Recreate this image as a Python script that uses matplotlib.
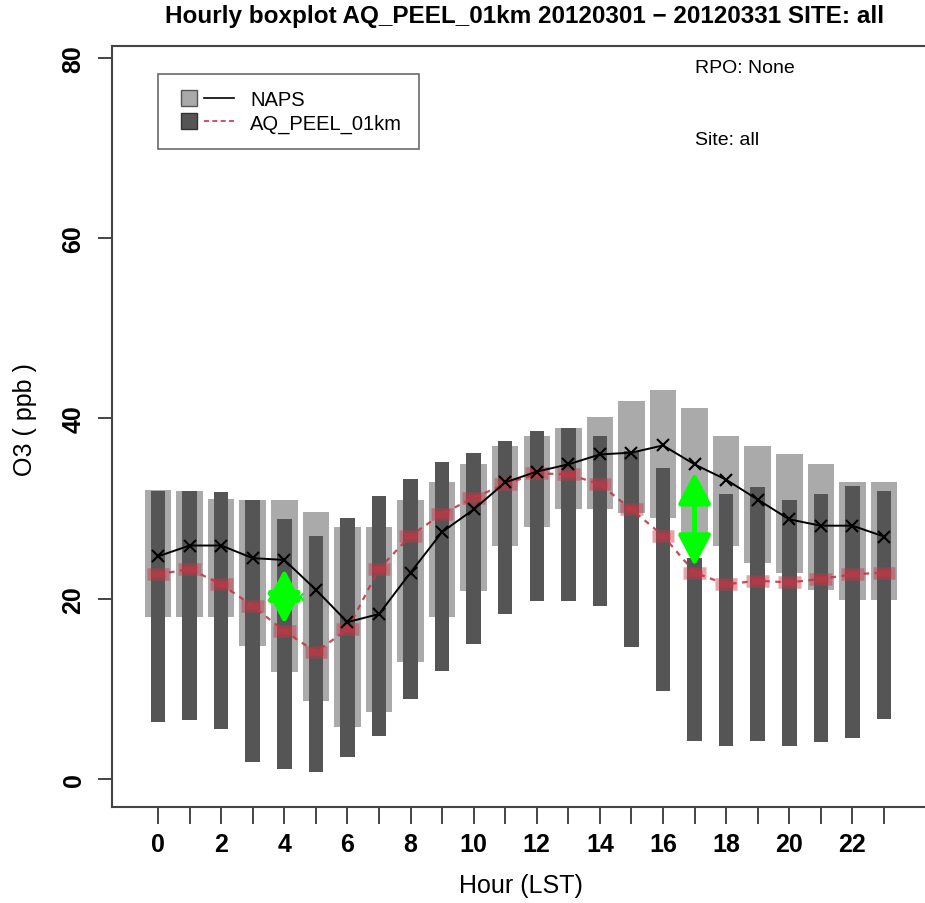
import numpy as np
import matplotlib
matplotlib.use("Agg")
import matplotlib.pyplot as plt
from matplotlib.lines import Line2D
from matplotlib.legend_handler import HandlerTuple

plt.rcParams['font.family'] = ['Liberation Sans', 'DejaVu Sans']

hours = np.arange(24)

# NAPS (observed) box top / bottom and median, ppb
naps_hi = [32.1, 32.0, 31.1, 30.9, 31.0, 29.6, 27.9, 27.9, 31.0, 33.0, 34.9, 36.9,
           38.0, 38.9, 40.1, 41.9, 43.1, 41.1, 38.0, 36.9, 36.0, 34.9, 33.0, 33.0]
naps_lo = [18.0, 18.0, 18.0, 14.8, 11.9, 8.7, 5.8, 7.4, 13.0, 18.0, 20.9, 25.9,
           27.9, 30.0, 30.0, 29.5, 29.0, 26.6, 25.9, 24.0, 22.9, 21.0, 19.9, 19.9]
naps_med = [24.7, 25.9, 25.9, 24.5, 24.3, 21.0, 17.4, 18.3, 22.9, 27.4, 29.9, 32.9,
            34.1, 34.9, 36.0, 36.2, 37.0, 34.9, 33.2, 31.0, 28.8, 28.1, 28.1, 26.9]

# AQ_PEEL_01km (model) box top / bottom and median, ppb
model_hi = [32.0, 32.0, 31.8, 31.0, 28.8, 27.0, 29.0, 31.4, 33.3, 35.2, 36.2, 37.5,
            38.6, 38.9, 38.0, 36.4, 34.5, 24.5, 31.6, 32.4, 31.0, 31.6, 32.5, 31.9]
model_lo = [6.3, 6.6, 5.6, 1.9, 1.1, 0.8, 2.4, 4.8, 8.9, 12.0, 15.0, 18.3,
            19.8, 19.8, 19.2, 14.7, 9.8, 4.2, 3.7, 4.2, 3.7, 4.1, 4.6, 6.7]
model_med = [22.7, 23.3, 21.6, 19.2, 16.4, 14.1, 16.6, 23.3, 27.0, 29.4, 31.2, 32.7,
             33.9, 33.8, 32.7, 29.9, 27.0, 22.9, 21.6, 22.0, 21.8, 22.2, 22.7, 22.9]

# green difference arrows: hour, from, to
arrow_hours = [4, 17]
arrow_from = [23.3, 34.0]
arrow_to = [17.2, 23.6]

light = '#aaaaaa'
dark = '#555555'
red = '#c83444'
green = '#00ff00'

fig = plt.figure(figsize=(9.25, 9.04), dpi=100)
ax = fig.add_axes([112 / 925, 1 - 808 / 904, 818 / 925, 761 / 904])

naps_hi = np.array(naps_hi)
naps_lo = np.array(naps_lo)
model_hi = np.array(model_hi)
model_lo = np.array(model_lo)

ax.bar(hours, naps_hi - naps_lo, bottom=naps_lo, width=0.84, color=light,
       edgecolor='none', zorder=2)
ax.bar(hours, model_hi - model_lo, bottom=model_lo, width=0.46, color=dark,
       edgecolor='none', zorder=3)

# model medians as soft red strokes across the boxes
for h, m in zip(hours, model_med):
    ax.plot([h - 0.36, h + 0.36], [m, m], color=red, lw=9, alpha=0.45,
            solid_capstyle='butt', zorder=4)
    ax.plot([h - 0.22, h + 0.22], [m, m], color=red, lw=5, alpha=0.55,
            solid_capstyle='butt', zorder=4)

ax.plot(hours, model_med, color=red, lw=1.6, ls=(0, (2.5, 2.5)), alpha=0.9,
        zorder=5)
ax.plot(hours, naps_med, color='black', lw=1.4, marker='x', ms=8, mew=1.5,
        zorder=6)

# green arrows
for h, a, b in zip(arrow_hours, arrow_from, arrow_to):
    ax.annotate('', xy=(h, b), xytext=(h, a),
                arrowprops=dict(arrowstyle='<|-|>,head_length=0.95,head_width=0.5',
                                color=green, lw=3.5, mutation_scale=20,
                                shrinkA=0, shrinkB=0), zorder=8)
ax.plot([3.6, 4.5], [20.2, 20.2], color=green, lw=1.5, marker='x', ms=6,
        mew=1.5, zorder=9)

ax.set_xlim(-1.46, 24.46)
ax.set_ylim(-3.1, 81.3)
ax.set_xticks(hours)
ax.set_xticklabels([str(h) if h % 2 == 0 else '' for h in hours],
                   fontsize=18, fontweight='bold')
ax.set_yticks([0, 20, 40, 60, 80])
ax.set_yticklabels(['0', '20', '40', '60', '80'], fontsize=18,
                   fontweight='bold', rotation=90, va='center')
ax.tick_params(axis='x', length=12, width=1.4, pad=6, color='#444444')
ax.tick_params(axis='y', length=10, width=1.4, pad=9, color='#444444')
ax.spines['right'].set_visible(False)
for s in ['left', 'top', 'bottom']:
    ax.spines[s].set_color('#444444')
    ax.spines[s].set_linewidth(1.5)

fig.text(525 / 925, 1 - 16 / 904,
         'Hourly boxplot AQ_PEEL_01km 20120301 \u2212 20120331 SITE: all',
         ha='center', va='center', fontsize=17.5, fontweight='bold')
fig.text(521 / 925, 1 - 886 / 904, 'Hour (LST)', ha='center', va='center',
         fontsize=18)
fig.text(25 / 925, 1 - 420 / 904, 'O3 ( ppb )', ha='center', va='center',
         fontsize=18, rotation=90)

ax.text(17.0, 78.9, 'RPO: None', fontsize=14, va='center', ha='left')
ax.text(17.0, 70.9, 'Site: all', fontsize=14, va='center', ha='left')

h_naps = (Line2D([], [], marker='s', ls='none', ms=11, mfc=light, mec=dark),
          Line2D([], [], color='black', lw=1.2))
h_model = (Line2D([], [], marker='s', ls='none', ms=11, mfc=dark, mec='#333333'),
           Line2D([], [], color=red, lw=1.2, ls=(0, (3, 2))))
leg = ax.legend([h_naps, h_model], ['NAPS', 'AQ_PEEL_01km'],
                handler_map={tuple: HandlerTuple(ndivide=None, pad=0)},
                loc='upper left', bbox_to_anchor=(0.056, 0.963),
                borderaxespad=0, fontsize=14.5, frameon=True, fancybox=False,
                handlelength=3, handletextpad=0.8, borderpad=0.8,
                labelspacing=0.2)
leg.get_frame().set_edgecolor('#444444')
leg.get_frame().set_linewidth(1.2)

fig.savefig('out.png', dpi=100)
